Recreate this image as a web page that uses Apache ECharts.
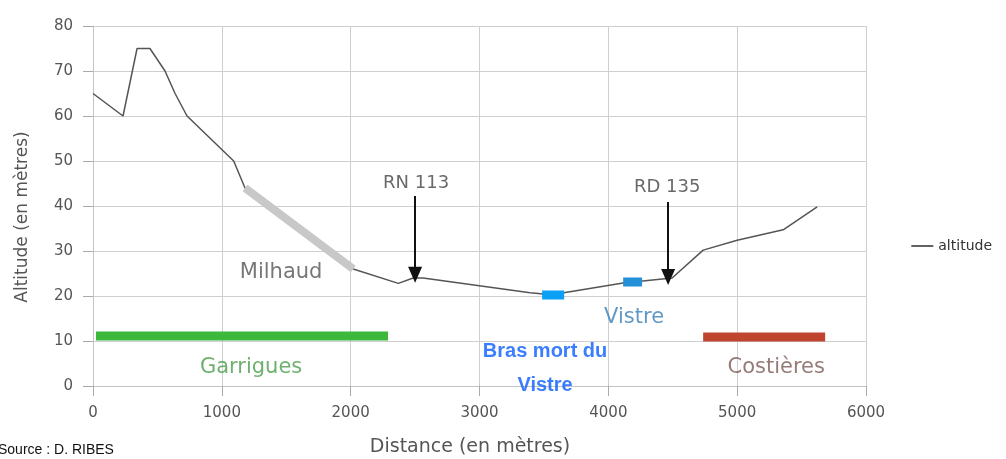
<!DOCTYPE html>
<html><head><meta charset="utf-8">
<script src="https://cdn.jsdelivr.net/npm/echarts@6/dist/echarts.min.js"></script>
<style>html,body{margin:0;padding:0;background:#fff}#c{width:1006px;height:459px}</style>
</head><body><div id="c"></div>
<script>
// Profile data
var distance = [0, 233, 342, 442, 559, 637, 730, 1092, 1180, 2020, 2370, 2485, 2562, 3393, 3560, 4115, 4495, 4736, 5000, 5357, 5621];
var altitude = [65, 60, 75, 75, 70, 65, 60, 50, 44, 26, 22.8, 24, 24, 20.7, 20.3, 22.9, 24, 30.2, 32.4, 34.7, 39.8];
// Highlight segments
var milhaudSeg = [[1180, 44], [2020, 26]];
var garriguesSeg = [[23, 11.1], [2290, 11.1]];
var costieresSeg = [[4736, 10.9], [5683, 10.9]];
var brasMortSeg = [[3486, 20.2], [3657, 20.2]];
var vistreSeg = [[4115, 23.1], [4262, 23.1]];
// Arrows [x, yStart, yEnd]
var arrowRN = [2500, 42.2, 24.7];
var arrowRD = [4464, 40.9, 24.2];
// Annotation texts
var labelX = [1460, 1227, 3509, 4200, 5303, 2508, 4457];
var labelY = [25.3, 4, 4, 15.3, 4, 45.1, 44.2];
var labelText = ['Milhaud', 'Garrigues', 'Bras mort du\nVistre', 'Vistre', 'Costières', 'RN 113', 'RD 135'];
var labelColor = ['#555555', '#4a9c4a', '#0a5cff', '#3a80b8', '#7a5a55', '#444444', '#444444'];
var labelSize = [21, 21, 20, 21, 21, 18, 18];
var labelWeight = ['normal', 'normal', 'bold', 'normal', 'normal', 'normal', 'normal'];
var labelFont = ['DejaVu Sans', 'DejaVu Sans', 'Liberation Sans', 'DejaVu Sans', 'DejaVu Sans', 'DejaVu Sans', 'DejaVu Sans'];
var xTicks = [0, 6000, 1000];
var yTicks = [0, 80, 10];

function seg(d, color, w) {
  return {type: 'line', data: d, symbol: 'none', silent: true, lineStyle: {color: color, width: w, cap: 'butt'}, z: 3};
}
function arrow(a) {
  return [{coord: [a[0], a[1]]}, {coord: [a[0], a[2]]}];
}
var chart = echarts.init(document.getElementById('c'));
chart.setOption({
  animation: false,
  grid: {left: 93, right: 140, top: 26, bottom: 73, containLabel: false, outerBoundsMode: 'none'},
  legend: {data: [{name: 'altitude', icon: 'path://M0,0L24,0L24,2L0,2Z'}], right: 9, top: 234,
    itemWidth: 22, itemHeight: 2, itemGap: 5,
    textStyle: {fontSize: 14, color: '#333', fontFamily: 'DejaVu Sans'}},
  xAxis: {type: 'value', min: xTicks[0], max: xTicks[1], interval: xTicks[2],
    name: 'Distance (en mètres)', nameLocation: 'middle', nameGap: 52,
    nameTextStyle: {fontSize: 19, color: '#555', fontFamily: 'DejaVu Sans', padding: [0, 19, 0, 0]},
    axisLine: {show: true, onZero: false, lineStyle: {color: '#c4c4c4'}},
    axisTick: {show: true, inside: false, length: 10, interval: 0, lineStyle: {color: '#aaaaaa', width: 1}},
    axisLabel: {fontSize: 15, color: '#555', margin: 20, fontFamily: 'DejaVu Sans',
      formatter: function (v) { return String(v); }},
    splitLine: {show: true, lineStyle: {color: '#cfcfcf'}}},
  yAxis: {type: 'value', min: yTicks[0], max: yTicks[1], interval: yTicks[2],
    name: 'Altitude (en mètres)', nameLocation: 'middle', nameGap: 62,
    nameTextStyle: {fontSize: 17, color: '#555', fontFamily: 'DejaVu Sans', padding: [0, 22, 0, 0]},
    axisLine: {show: true, onZero: false, lineStyle: {color: '#c4c4c4'}},
    axisTick: {show: true, inside: false, length: 10, interval: 0, lineStyle: {color: '#aaaaaa', width: 1}},
    axisLabel: {fontSize: 15, color: '#555', margin: 20, fontFamily: 'DejaVu Sans',
      formatter: function (v) { return String(v); }},
    splitLine: {show: true, lineStyle: {color: '#cfcfcf'}}},
  series: [
    {name: 'altitude', type: 'line', symbol: 'none', z: 2,
      data: distance.map(function (d, i) { return [d, altitude[i]]; }),
      lineStyle: {color: '#555', width: 1.5}, itemStyle: {color: '#555'},
      markLine: {silent: true, symbol: ['none', 'triangle'], symbolSize: [14, 16],
        label: {show: false}, lineStyle: {color: '#111', width: 2, type: 'solid'},
        data: [arrow(arrowRN), arrow(arrowRD)]}},
    seg(milhaudSeg, '#c8c8c8', 8),
    seg(garriguesSeg, '#3cb83c', 9),
    seg(costieresSeg, '#c0452f', 9),
    seg(brasMortSeg, '#0aa0f5', 9),
    seg(vistreSeg, '#2490d8', 9),
    {type: 'scatter', symbolSize: 0, silent: true, z: 5,
      data: labelX.map(function (x, i) {
        return {value: [x, labelY[i]], label: {show: true, position: 'inside', formatter: labelText[i],
          color: labelColor[i], fontSize: labelSize[i], fontWeight: labelWeight[i], fontFamily: labelFont[i], lineHeight: 34}};
      })}
  ],
  graphic: [{type: 'text', left: -2, top: 443, style: {text: 'Source : D. RIBES', fontSize: 14, fill: '#111', fontFamily: 'Liberation Sans'}}]
});
</script></body></html>
